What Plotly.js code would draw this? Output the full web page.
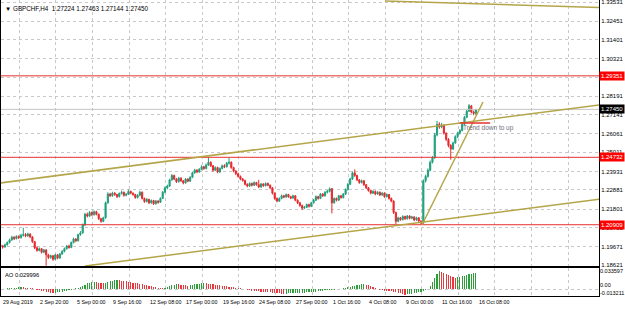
<!DOCTYPE html>
<html><head><meta charset="utf-8">
<script src="https://cdn.plot.ly/plotly-3.0.1.min.js"></script>
<style>html,body{margin:0;padding:0;background:#fff;overflow:hidden}#chart{width:625px;height:309px}</style>
</head><body><div id="chart"></div>
<script>
// ---- data (GBPCHF H4) ----
const openP=[1.1978,1.1971,1.1965,1.1978,1.1990,1.2005,1.2020,1.2012,1.2025,1.2018,
1.2030,1.2035,1.2028,1.2038,1.2022,1.1995,1.1960,1.1945,1.1955,1.1935,
1.1948,1.1920,1.1905,1.1915,1.1895,1.1920,1.1902,1.1925,1.1940,1.1955,
1.1970,1.1962,1.1990,1.2010,1.2000,1.2035,1.2045,1.2090,1.2150,1.2140,
1.2160,1.2148,1.2165,1.2150,1.2125,1.2110,1.2130,1.2215,1.2265,1.2255,
1.2270,1.2262,1.2250,1.2268,1.2275,1.2258,1.2264,1.2280,1.2270,1.2262,
1.2245,1.2258,1.2275,1.2240,1.2222,1.2235,1.2215,1.2228,1.2210,1.2225,
1.2218,1.2240,1.2275,1.2300,1.2310,1.2345,1.2370,1.2350,1.2335,1.2355,
1.2340,1.2328,1.2350,1.2338,1.2360,1.2385,1.2400,1.2390,1.2405,1.2420,
1.2410,1.2430,1.2445,1.2425,1.2400,1.2415,1.2390,1.2410,1.2425,1.2420,
1.2440,1.2445,1.2415,1.2395,1.2380,1.2365,1.2350,1.2342,1.2320,1.2310,
1.2325,1.2315,1.2330,1.2318,1.2305,1.2322,1.2312,1.2325,1.2315,1.2300,
1.2270,1.2240,1.2225,1.2240,1.2255,1.2248,1.2262,1.2250,1.2242,1.2255,
1.2230,1.2215,1.2200,1.2185,1.2190,1.2205,1.2195,1.2215,1.2230,1.2250,
1.2240,1.2265,1.2255,1.2275,1.2280,1.2295,1.2215,1.2240,1.2230,1.2255,
1.2245,1.2265,1.2290,1.2320,1.2350,1.2385,1.2370,1.2345,1.2330,1.2340,
1.2318,1.2300,1.2285,1.2270,1.2280,1.2265,1.2275,1.2260,1.2270,1.2250,
1.2262,1.2240,1.2225,1.2160,1.2110,1.2130,1.2120,1.2138,1.2125,1.2140,
1.2128,1.2135,1.2118,1.2130,1.2112,1.2100,1.2340,1.2365,1.2400,1.2445,
1.2470,1.2600,1.2660,1.2645,1.2655,1.2610,1.2575,1.2540,1.2520,1.2555,
1.2590,1.2610,1.2625,1.2660,1.2700,1.2735,1.2765,1.2730,1.27224];
const highP=[1.1985,1.1976,1.1984,1.1996,1.2012,1.2028,1.2026,1.2031,1.2030,1.2040,
1.2074,1.2044,1.2046,1.2042,1.2026,1.1999,1.1968,1.1962,1.1959,1.1954,
1.1952,1.1926,1.1921,1.1919,1.1925,1.1924,1.1931,1.1946,1.1962,1.1976,
1.1978,1.1996,1.2018,1.2015,1.2040,1.2055,1.2098,1.2158,1.2160,1.2168,
1.2166,1.2172,1.2170,1.2155,1.2130,1.2136,1.2222,1.2275,1.2272,1.2278,
1.2276,1.2266,1.2274,1.2284,1.2279,1.2270,1.2290,1.2285,1.2274,1.2266,
1.2264,1.2283,1.2280,1.2245,1.2242,1.2238,1.2234,1.2232,1.2231,1.2230,
1.2246,1.2282,1.2308,1.2318,1.2352,1.2378,1.2375,1.2355,1.2362,1.2360,
1.2345,1.2356,1.2354,1.2366,1.2392,1.2408,1.2406,1.2412,1.2428,1.2425,
1.2438,1.2473,1.2450,1.2430,1.2422,1.2420,1.2416,1.2432,1.2434,1.2447,
1.2470,1.2450,1.2420,1.2400,1.2386,1.2370,1.2356,1.2346,1.2326,1.2331,
1.2330,1.2336,1.2334,1.2345,1.2328,1.2326,1.2331,1.2330,1.2319,1.2304,
1.2274,1.2245,1.2246,1.2262,1.2260,1.2268,1.2266,1.2255,1.2261,1.2259,
1.2235,1.2220,1.2205,1.2197,1.2211,1.2210,1.2221,1.2237,1.2257,1.2255,
1.2271,1.2270,1.2281,1.2288,1.2302,1.2299,1.2246,1.2245,1.2261,1.2260,
1.2271,1.2297,1.2327,1.2358,1.2393,1.2405,1.2375,1.2350,1.2347,1.2344,
1.2322,1.2305,1.2290,1.2286,1.2285,1.2281,1.2280,1.2276,1.2274,1.2268,
1.2266,1.2245,1.2229,1.2165,1.2136,1.2135,1.2144,1.2142,1.2146,1.2145,
1.2141,1.2139,1.2136,1.2134,1.2116,1.2348,1.2374,1.2410,1.2455,1.2480,
1.2612,1.2680,1.2672,1.2668,1.2660,1.2615,1.2582,1.2548,1.2562,1.2598,
1.2618,1.2634,1.2668,1.2708,1.2745,1.2775,1.2770,1.2738,1.27463];
const lowP=[1.1962,1.1955,1.1960,1.1972,1.1985,1.2000,1.2004,1.2008,1.2010,1.2012,
1.2024,1.2020,1.2022,1.2015,1.1988,1.1952,1.1938,1.1940,1.1928,1.1930,
1.1858,1.1896,1.1898,1.1886,1.1890,1.1895,1.1898,1.1920,1.1934,1.1950,
1.1955,1.1958,1.1985,1.1992,1.1996,1.2028,1.2040,1.2085,1.2132,1.2135,
1.2140,1.2142,1.2144,1.2118,1.2102,1.2105,1.2125,1.2210,1.2248,1.2250,
1.2255,1.2242,1.2246,1.2262,1.2250,1.2252,1.2260,1.2264,1.2255,1.2238,
1.2240,1.2252,1.2234,1.2215,1.2218,1.2208,1.2210,1.2203,1.2205,1.2210,
1.2214,1.2236,1.2270,1.2292,1.2305,1.2340,1.2344,1.2328,1.2330,1.2334,
1.2320,1.2324,1.2332,1.2334,1.2355,1.2380,1.2383,1.2386,1.2400,1.2402,
1.2405,1.2425,1.2418,1.2392,1.2395,1.2383,1.2385,1.2405,1.2412,1.2415,
1.2432,1.2408,1.2388,1.2372,1.2358,1.2343,1.2335,1.2314,1.2303,1.2305,
1.2308,1.2310,1.2312,1.2298,1.2300,1.2306,1.2308,1.2309,1.2292,1.2262,
1.2232,1.2218,1.2220,1.2235,1.2241,1.2244,1.2244,1.2236,1.2238,1.2224,
1.2208,1.2193,1.2175,1.2180,1.2186,1.2188,1.2191,1.2210,1.2225,1.2233,
1.2236,1.2248,1.2250,1.2268,1.2274,1.2155,1.2210,1.2223,1.2226,1.2238,
1.2240,1.2260,1.2285,1.2315,1.2345,1.2362,1.2338,1.2323,1.2325,1.2311,
1.2293,1.2278,1.2263,1.2265,1.2258,1.2260,1.2253,1.2255,1.2243,1.2245,
1.2233,1.2218,1.2152,1.2095,1.2105,1.2113,1.2115,1.2118,1.2120,1.2121,
1.2122,1.2111,1.2113,1.2105,1.20909,1.2096,1.2330,1.2358,1.2395,1.2438,
1.2465,1.2592,1.2635,1.2638,1.2602,1.2565,1.2530,1.2460,1.2515,1.2550,
1.2583,1.2602,1.2620,1.2655,1.2695,1.2730,1.2722,1.2712,1.27144];
const closeP=[1.1971,1.1965,1.1978,1.1990,1.2005,1.2020,1.2012,1.2025,1.2018,1.2030,
1.2035,1.2028,1.2038,1.2022,1.1995,1.1960,1.1945,1.1955,1.1935,1.1948,
1.1920,1.1905,1.1915,1.1895,1.1920,1.1902,1.1925,1.1940,1.1955,1.1970,
1.1962,1.1990,1.2010,1.2000,1.2035,1.2045,1.2090,1.2150,1.2140,1.2160,
1.2148,1.2165,1.2150,1.2125,1.2110,1.2130,1.2215,1.2265,1.2255,1.2270,
1.2262,1.2250,1.2268,1.2275,1.2258,1.2264,1.2280,1.2270,1.2262,1.2245,
1.2258,1.2275,1.2240,1.2222,1.2235,1.2215,1.2228,1.2210,1.2225,1.2218,
1.2240,1.2275,1.2300,1.2310,1.2345,1.2370,1.2350,1.2335,1.2355,1.2340,
1.2328,1.2350,1.2338,1.2360,1.2385,1.2400,1.2390,1.2405,1.2420,1.2410,
1.2430,1.2445,1.2425,1.2400,1.2415,1.2390,1.2410,1.2425,1.2420,1.2440,
1.2445,1.2415,1.2395,1.2380,1.2365,1.2350,1.2342,1.2320,1.2310,1.2325,
1.2315,1.2330,1.2318,1.2305,1.2322,1.2312,1.2325,1.2315,1.2300,1.2270,
1.2240,1.2225,1.2240,1.2255,1.2248,1.2262,1.2250,1.2242,1.2255,1.2230,
1.2215,1.2200,1.2185,1.2190,1.2205,1.2195,1.2215,1.2230,1.2250,1.2240,
1.2265,1.2255,1.2275,1.2280,1.2295,1.2215,1.2240,1.2230,1.2255,1.2245,
1.2265,1.2290,1.2320,1.2350,1.2385,1.2370,1.2345,1.2330,1.2340,1.2318,
1.2300,1.2285,1.2270,1.2280,1.2265,1.2275,1.2260,1.2270,1.2250,1.2262,
1.2240,1.2225,1.2160,1.2110,1.2130,1.2120,1.2138,1.2125,1.2140,1.2128,
1.2135,1.2118,1.2130,1.2112,1.2100,1.2340,1.2365,1.2400,1.2445,1.2470,
1.2600,1.2660,1.2645,1.2655,1.2610,1.2575,1.2540,1.2520,1.2555,1.2590,
1.2610,1.2625,1.2660,1.2700,1.2735,1.2765,1.2730,1.2722,1.27450];
const aoValues=[0.0005,0.0008,0.0010,0.0015,0.0020,0.0025,0.0030,0.0032,0.0035,0.0038,
0.0035,0.0032,0.0028,0.0025,0.0018,0.0008,-0.0005,-0.0015,-0.0025,-0.0035,
-0.0045,-0.0052,-0.0058,-0.0060,-0.0058,-0.0055,-0.0050,-0.0042,-0.0035,-0.0028,
-0.0018,-0.0008,0.0002,0.0015,0.0030,0.0045,0.0065,0.0085,0.0105,0.0120,
0.0128,0.0132,0.0125,0.0118,0.0112,0.0108,0.0115,0.0130,0.0145,0.0155,
0.0162,0.0168,0.0165,0.0158,0.0150,0.0142,0.0135,0.0128,0.0120,0.0115,
0.0110,0.0102,0.0090,0.0082,0.0075,0.0068,0.0055,0.0045,0.0035,0.0025,
0.0018,0.0015,0.0025,0.0040,0.0055,0.0070,0.0085,0.0095,0.0090,0.0082,
0.0075,0.0070,0.0068,0.0072,0.0080,0.0088,0.0095,0.0102,0.0108,0.0112,
0.0108,0.0102,0.0095,0.0088,0.0082,0.0078,0.0072,0.0068,0.0060,0.0052,
0.0048,0.0042,0.0038,0.0032,0.0025,0.0018,0.0010,0.0002,-0.0008,-0.0015,
-0.0022,-0.0028,-0.0032,-0.0038,-0.0042,-0.0045,-0.0050,-0.0052,-0.0055,-0.0060,
-0.0065,-0.0070,-0.0075,-0.0078,-0.0080,-0.0078,-0.0075,-0.0072,-0.0070,-0.0068,
-0.0065,-0.0062,-0.0060,-0.0058,-0.0055,-0.0052,-0.0048,-0.0045,-0.0040,-0.0035,
-0.0030,-0.0025,-0.0020,-0.0015,-0.0010,-0.0008,-0.0005,-0.0003,0.0002,0.0008,
0.0015,0.0025,0.0035,0.0045,0.0055,0.0065,0.0075,0.0082,0.0088,0.0092,
0.0085,0.0070,0.0055,0.0040,0.0025,0.0010,-0.0005,-0.0015,-0.0022,-0.0028,
-0.0032,-0.0038,-0.0045,-0.0055,-0.0065,-0.0075,-0.0085,-0.0095,-0.0092,-0.0085,
-0.0078,-0.0070,-0.0062,-0.0055,-0.0048,-0.0038,-0.0020,0.0005,0.0060,0.0130,
0.0200,0.0270,0.0336,0.0315,0.0302,0.0280,0.0260,0.0240,0.0220,0.0210,
0.0215,0.0225,0.0235,0.0245,0.0255,0.0268,0.0280,0.0290,0.0300];
const timeLabels=["29 Aug 2019","2 Sep 20:00","5 Sep 00:00","9 Sep 16:00","12 Sep 08:00","17 Sep 00:00","19 Sep 16:00","24 Sep 08:00","27 Sep 00:00","1 Oct 16:00","4 Oct 08:00","9 Oct 00:00","11 Oct 16:00","16 Oct 08:00"];
const timeLabelBars=[0.3,16,32,48,64,80,96,112,128,144,160,176,192,208];
const gridBars=[8.3,24.3,40.3,56.3,72.3,88.3,104.3,120.3,136.3,152.3,168.3,184.3,200.3,216.3,232.3,248.3];
const priceTicks=[1.33531,1.32451,1.31401,1.30321,1.29271,1.28191,1.27141,1.26061,1.25011,1.23931,1.22881,1.21801,1.20751,1.19671,1.18621];
const levels=[1.29351,1.24732,1.20909];
const bidPrice=1.27450;
const aoLabels=["0.033597","0.00","-0.013211"];
const aoLabelValues=[0.033597,0,0];
// trendlines: [bar0, price0, bar1, price1]
const channelUpper=[0,1.23278,261.85,1.27703];
const channelLower=[37,1.18566,261.85,1.22354];
const steepLine=[184.4,1.20894,211.1,1.27868];
const topLine=[168.2,1.33594,261.85,1.33226];
const trendMark=[201,1.26677,214.2,1.26677];
const trendText="Trend down to up";
const trendTextPos=[201.5,1.26393];
const header="\u25BC GBPCHF,H4  1.27224 1.27463 1.27144 1.27450";
const aoHeader="AO 0.029996";

const bars=openP.map((_,i)=>i);
const FONT="Liberation Sans, Arial, sans-serif";
const aoColors=aoValues.map((v,i)=> (i===0||v>aoValues[i-1])?'#2e9e3a':'#e8383d');
const olive='#b4a648';

const traces=[
 {type:'candlestick',x:bars,open:openP,high:highP,low:lowP,close:closeP,xaxis:'x',yaxis:'y',
  increasing:{line:{color:'#1f9f7c',width:1},fillcolor:'#1f9f7c'},
  decreasing:{line:{color:'#e8282c',width:1},fillcolor:'#e8282c'},
  whiskerwidth:0,hoverinfo:'skip'},
 {type:'bar',x:bars,y:aoValues,xaxis:'x2',yaxis:'y2',marker:{color:aoColors,line:{width:0}},width:0.5,hoverinfo:'skip'}
];

const shapes=[];
levels.forEach(v=>shapes.push({type:'line',xref:'paper',x0:0,x1:1,yref:'y',y0:v,y1:v,line:{color:'#e83030',width:1}}));
shapes.push({type:'line',xref:'paper',x0:0,x1:1,yref:'y',y0:bidPrice,y1:bidPrice,line:{color:'#c4c4c4',width:1}});
[channelUpper,channelLower,steepLine,topLine].forEach(t=>shapes.push({type:'line',xref:'x',yref:'y',x0:t[0],y0:t[1],x1:t[2],y1:t[3],line:{color:olive,width:1.5}}));
shapes.push({type:'line',xref:'x',yref:'y',x0:trendMark[0],y0:trendMark[1],x1:trendMark[2],y1:trendMark[3],line:{color:'#e83030',width:1.5}});

const annotations=[];
timeLabels.forEach((t,k)=>annotations.push({xref:'x',yref:'paper',x:timeLabelBars[k],y:-0.0203,xanchor:'left',yanchor:'middle',xshift:k===0?0:1,text:t,showarrow:false,font:{family:FONT,size:5.3,color:'#000'}}));
levels.forEach(v=>annotations.push({xref:'paper',yref:'y',x:1,y:v,xanchor:'left',yanchor:'middle',text:v.toFixed(5),showarrow:false,bgcolor:'#ff0000',borderpad:1,font:{family:FONT,size:6,color:'#fff'}}));
annotations.push({xref:'paper',yref:'y',x:1,y:bidPrice,xanchor:'left',yanchor:'middle',text:bidPrice.toFixed(5),showarrow:false,bgcolor:'#000',borderpad:1,font:{family:FONT,size:6,color:'#fff'}});
annotations.push({xref:'paper',yref:'paper',x:0,y:1,xanchor:'left',yanchor:'top',xshift:2,yshift:-3,text:header,showarrow:false,font:{family:FONT,size:6.3,color:'#000'}});
annotations.push({xref:'paper',yref:'paper',x:0,y:0.0946,xanchor:'left',yanchor:'top',xshift:2,yshift:-2,text:aoHeader,showarrow:false,font:{family:FONT,size:5.8,color:'#000'}});
annotations.push({xref:'x',yref:'y',x:trendTextPos[0],y:trendTextPos[1],xanchor:'left',yanchor:'middle',text:trendText,showarrow:false,font:{family:FONT,size:6.5,color:'#6e6e7e'}});
aoLabels.forEach((t,k)=>annotations.push({xref:'paper',yref:'y2',x:1,y:aoLabelValues[k],xanchor:'left',yanchor:k===0?'middle':(k===1?'bottom':'top'),xshift:0,text:t,showarrow:false,borderpad:0,font:{family:FONT,size:5.5,color:'#000'}}));

const gridCol='#c8c8c8';
const layout={
 width:625,height:309,margin:{l:1,r:26,t:0,b:13},
 paper_bgcolor:'#fff',plot_bgcolor:'#fff',showlegend:false,
 font:{family:FONT,size:6,color:'#000'},
 xaxis:{domain:[0,1],anchor:'y',range:[0.254,261.85],tickmode:'array',tickvals:gridBars,showticklabels:false,ticks:'',
   showgrid:true,gridcolor:gridCol,griddash:'dot',gridwidth:1,zeroline:false,showline:true,mirror:true,linecolor:'#000',linewidth:1,
   rangeslider:{visible:false},fixedrange:true},
 yaxis:{domain:[0.10135,1],anchor:'x',side:'right',range:[1.18569,1.33651],tickmode:'array',tickvals:priceTicks,
   ticktext:priceTicks.map(v=>v.toFixed(5)),ticks:'',ticklen:0,ticklabeloverflow:'allow',showgrid:true,gridcolor:gridCol,griddash:'dot',gridwidth:1,zeroline:false,
   showline:true,mirror:true,linecolor:'#000',linewidth:1,tickfont:{family:FONT,size:6,color:'#000'},fixedrange:true},
 xaxis2:{domain:[0,1],anchor:'y2',matches:'x',range:[0.254,261.85],tickmode:'array',tickvals:gridBars,showticklabels:false,ticks:'',
   showgrid:true,gridcolor:gridCol,griddash:'dot',gridwidth:1,zeroline:false,showline:true,mirror:true,linecolor:'#000',linewidth:1,fixedrange:true},
 yaxis2:{domain:[0,0.0946],anchor:'x2',side:'right',range:[-0.0121,0.0385],tickmode:'array',tickvals:[0],showticklabels:false,ticks:'',
   showgrid:true,gridcolor:gridCol,griddash:'dot',zeroline:false,showline:true,mirror:true,linecolor:'#000',linewidth:1,fixedrange:true},
 bargap:0,shapes:shapes,annotations:annotations,hovermode:false
};
Plotly.newPlot('chart',traces,layout,{staticPlot:true,displayModeBar:false});
</script></body></html>
